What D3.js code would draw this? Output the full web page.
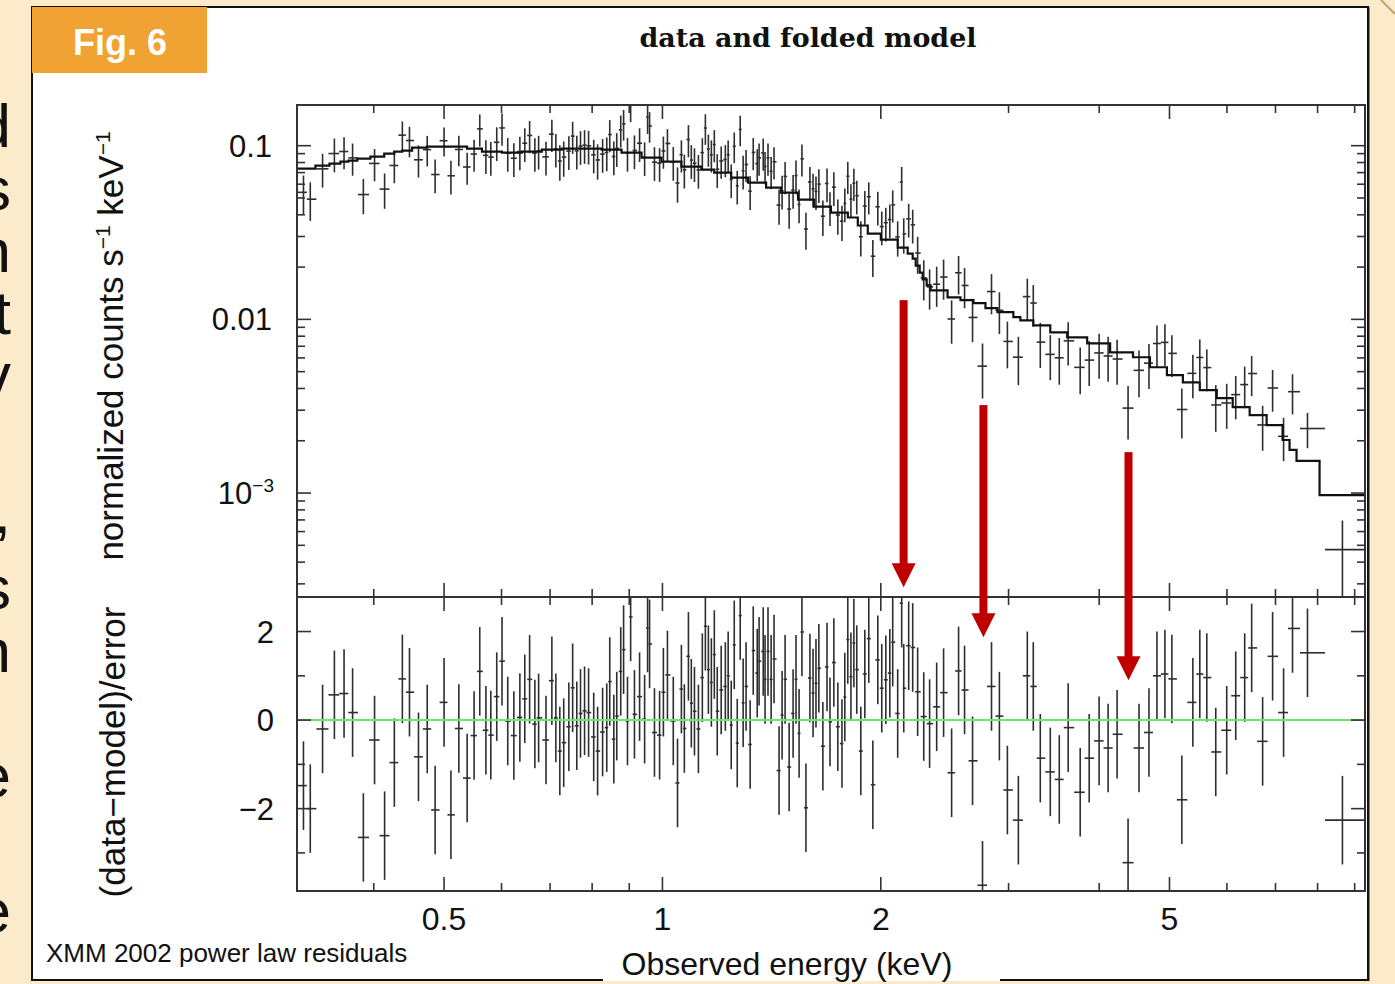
<!DOCTYPE html>
<html>
<head>
<meta charset="utf-8">
<script src="https://cdn.jsdelivr.net/npm/d3@7"></script>
<style>
  html, body { margin: 0; padding: 0; background: #fbebcb; }
  svg { display: block; }
</style>
</head>
<body>
<div id="chart"></div>
<script>
// ---- data ----
// bin centres, keV
const energy = [
  0.320,0.327,0.340,0.353,0.364,0.374,0.387,0.401,0.414,0.427,
  0.438,0.448,0.461,0.474,0.486,0.500,0.511,0.524,0.538,0.550,
  0.560,0.571,0.580,0.591,0.601,0.612,0.624,0.636,0.646,0.656,
  0.667,0.675,0.691,0.704,0.713,0.722,0.731,0.743,0.752,0.762,
  0.771,0.781,0.791,0.804,0.814,0.827,0.838,0.846,0.857,0.865,
  0.876,0.884,0.895,0.904,0.915,0.930,0.945,0.954,0.960,0.975,
  0.991,1.003,1.016,1.035,1.049,1.062,1.072,1.086,1.096,1.107,
  1.121,1.135,1.146,1.157,1.168,1.179,1.190,1.205,1.221,1.232,
  1.244,1.256,1.268,1.280,1.292,1.304,1.321,1.334,1.351,1.359,
  1.377,1.385,1.398,1.412,1.425,1.448,1.462,1.476,1.495,1.514,
  1.528,1.543,1.557,1.577,1.597,1.613,1.628,1.643,1.664,1.686,
  1.702,1.723,1.745,1.768,1.784,1.801,1.819,1.836,1.853,1.877,
  1.901,1.925,1.950,1.981,2.006,2.032,2.058,2.077,2.110,2.137,
  2.151,2.185,2.213,2.248,2.292,2.335,2.388,2.441,2.504,2.560,
  2.609,2.676,2.762,2.842,2.914,2.989,3.095,3.184,3.245,3.318,
  3.425,3.524,3.625,3.766,3.875,3.999,4.115,4.234,4.384,4.539,
  4.685,4.805,4.928,5.038,5.200,5.385,5.505,5.629,5.791,5.996,
  6.170,6.348,6.490,6.720,6.936,7.182,7.389,7.748,8.657
];
// (data-model)/error
const resid = [
  -1.48,-2.00,-0.20,0.57,0.60,0.17,-2.65,-0.45,-2.61,-0.96,
  0.93,0.63,-0.83,-0.20,-2.03,0.40,-2.14,-0.19,-1.31,-0.35,
  1.10,-0.23,-0.34,0.53,1.33,-0.02,-0.35,0.06,0.48,0.92,
  -0.09,0.05,-0.45,0.89,0.05,-0.70,-0.51,-0.15,0.73,-0.13,
  0.15,0.21,0.17,-0.38,-0.70,-0.27,-0.17,0.87,-0.43,0.09,
  1.10,1.59,-0.02,2.33,0.13,0.53,0.02,2.08,1.72,-0.28,
  -0.34,0.63,1.02,-0.02,-1.42,0.70,-0.19,1.44,0.38,0.20,
  -0.20,0.96,2.12,1.14,0.85,1.48,0.20,0.68,0.76,1.00,
  -0.11,1.70,-0.52,2.36,0.39,0.76,-0.55,1.57,1.06,1.33,
  1.55,0.92,1.55,0.92,1.38,-1.14,0.11,0.92,-1.06,0.15,
  0.92,-0.30,1.99,-1.98,0.95,0.61,0.83,1.17,-0.59,1.20,
  -0.04,1.30,-0.15,-0.53,0.52,1.82,0.98,1.74,1.14,-0.70,
  1.04,1.84,-1.46,1.36,0.72,0.91,1.06,1.76,0.15,2.64,
  0.72,1.68,1.64,0.64,0.08,-0.08,0.30,0.62,-1.19,1.11,
  0.68,-0.92,-3.73,0.76,0.09,-1.58,-2.26,1.00,0.76,-0.86,
  -1.17,-1.34,-0.17,-1.63,-0.86,-0.47,-0.63,-0.32,-3.22,-0.63,
  -0.28,1.00,1.04,0.93,-1.80,0.40,1.04,0.96,-0.72,-0.23,
  0.55,0.96,1.63,-0.48,1.44,0.17,2.07,1.52,-2.26
];
// relative error of each data point (sigma / counts)
const relErr = [
  0.25,0.25,0.22,0.22,0.21,0.21,0.23,0.21,0.23,0.21,
  0.20,0.20,0.21,0.20,0.22,0.19,0.22,0.20,0.21,0.21,
  0.21,0.22,0.22,0.22,0.21,0.22,0.22,0.22,0.22,0.21,
  0.22,0.22,0.22,0.21,0.22,0.23,0.23,0.22,0.21,0.22,
  0.22,0.22,0.22,0.22,0.23,0.22,0.22,0.21,0.22,0.22,
  0.21,0.20,0.22,0.20,0.22,0.22,0.22,0.20,0.20,0.22,
  0.22,0.21,0.21,0.22,0.23,0.21,0.22,0.21,0.22,0.22,
  0.22,0.21,0.20,0.21,0.21,0.21,0.22,0.21,0.21,0.21,
  0.22,0.20,0.22,0.20,0.22,0.21,0.22,0.21,0.21,0.21,
  0.21,0.21,0.21,0.21,0.21,0.23,0.22,0.21,0.23,0.22,
  0.22,0.22,0.21,0.24,0.22,0.22,0.22,0.22,0.23,0.22,
  0.22,0.22,0.23,0.23,0.22,0.21,0.22,0.21,0.22,0.23,
  0.22,0.21,0.24,0.22,0.22,0.22,0.22,0.21,0.23,0.22,
  0.23,0.22,0.22,0.24,0.26,0.26,0.26,0.26,0.28,0.25,
  0.26,0.28,0.35,0.26,0.27,0.30,0.31,0.27,0.27,0.29,
  0.29,0.30,0.28,0.30,0.29,0.29,0.29,0.29,0.34,0.30,
  0.29,0.27,0.27,0.27,0.32,0.28,0.27,0.27,0.30,0.29,
  0.28,0.27,0.26,0.29,0.27,0.28,0.26,0.23,0.47
];
// folded model, step starts (keV) and level (counts s-1 keV-1)
const modelE = [
  0.3135,0.3324,0.3475,0.3598,0.3691,0.3797,0.3957,0.4135,0.4268,0.4378,
  0.4518,0.4738,0.5048,0.5378,0.5639,0.6007,0.6400,0.6819,0.7264,0.7739,
  0.8245,0.8784,0.9357,0.9968,1.0620,1.1314,1.1787,1.2439,1.3126,1.3896,
  1.4573,1.5378,1.6176,1.7070,1.8013,1.8592,1.9190,2.0000,2.1104,2.1782,
  2.2130,2.2342,2.2627,2.2843,2.3134,2.3428,2.4719,2.5757,2.6842,2.7881,
  2.8961,3.0464,3.1146,3.2452,3.4246,3.6139,3.8502,4.1411,4.4535,4.6997,
  4.9594,5.2169,5.5052,5.8094,6.1110,6.4489,6.8055,7.1591,7.3194,7.4834,
  8.0510
];
const modelC = [
  0.0738,0.0768,0.0788,0.0809,0.0820,0.0842,0.0865,0.0900,0.0924,0.0936,
  0.0974,0.0987,0.0987,0.0961,0.0924,0.0912,0.0924,0.0948,0.0961,0.0961,
  0.0948,0.0912,0.0853,0.0809,0.0757,0.0728,0.0700,0.0655,0.0613,0.0574,
  0.0537,0.0489,0.0446,0.0412,0.0386,0.0347,0.0312,0.0288,0.0259,0.0239,
  0.0224,0.0204,0.0186,0.0170,0.0157,0.0147,0.0134,0.0129,0.0124,0.0116,
  0.0110,0.0103,0.00987,0.00924,0.00842,0.00788,0.00728,0.00646,0.00605,0.00530,
  0.00477,0.00434,0.00391,0.00352,0.00312,0.00281,0.00246,0.00202,0.00177,0.00153,
  0.000974
];

const xTickMajor = [0.5, 1, 2, 5];
const xTickMinor = [0.4, 0.6, 0.7, 0.8, 0.9, 3, 4, 6, 7, 8, 9];
const xTickLabels = ['0.5', '1', '2', '5'];
const yTickMajor = [1e-3, 1e-2, 0.1];
const rTickMajor = [-2, 0, 2];
const rTickMinor = [-3, -1, 1];
const rTickLabels = ['\u22122', '0', '2'];

// red arrows: energy, top (counts), tip (residual units)
const arrowE   = [2.15, 2.77, 4.39];
const arrowTop = [0.0129, 0.00321, 0.00172];
const arrowTip = [3.0, 1.87, 0.90];

// slide text cut off at the left edge
const sideLetters = ['d','s','n','t','v',',','s','n','e','e'];

// ---- layout ----
const W = 1395, H = 984;
const X0 = 297, X1 = 1365, YT0 = 105, YMID = 597, YR1 = 891;
const SANS = 'Liberation Sans, Arial, Helvetica, sans-serif';

const svg = d3.select('#chart').append('svg')
  .attr('width', W).attr('height', H);

svg.append('rect').attr('width', W).attr('height', H).attr('fill', '#fbebcb');

// page fold line top right
svg.append('line')
  .attr('x1', 1381).attr('y1', 0).attr('x2', 1395).attr('y2', 14)
  .attr('stroke', '#c9a064').attr('stroke-width', 2);

// left clipped slide letters
const sideY = [147, 210, 272, 334, 396, 533, 609, 672, 797, 932];
svg.append('g').selectAll('text')
  .data(sideLetters)
  .join('text')
    .attr('x', 11)
    .attr('y', (d, i) => sideY[i])
    .attr('text-anchor', 'end')
    .style('font-family', SANS)
    .style('font-size', '62px')
    .attr('fill', '#111')
    .text(d => d);

// figure box
svg.append('rect')
  .attr('x', 32).attr('y', 7).attr('width', 1336).attr('height', 973)
  .attr('fill', '#fff').attr('stroke', '#111').attr('stroke-width', 2);
svg.append('line')
  .attr('x1', 1369.5).attr('x2', 1369.5).attr('y1', 7).attr('y2', 981)
  .attr('stroke', '#888').attr('stroke-width', 1);

// Fig. 6 badge
svg.append('rect')
  .attr('x', 32).attr('y', 7).attr('width', 175).attr('height', 66)
  .attr('fill', '#f0a232');
svg.append('text')
  .attr('x', 120).attr('y', 55)
  .attr('text-anchor', 'middle')
  .style('font-family', SANS).style('font-weight', 'bold').style('font-size', '36px')
  .attr('fill', '#fff')
  .text('Fig. 6');

// title
svg.append('text')
  .attr('x', 808).attr('y', 47)
  .attr('text-anchor', 'middle')
  .attr('textLength', 337).attr('lengthAdjust', 'spacingAndGlyphs')
  .style('font-family', 'DejaVu Serif, Liberation Serif, serif')
  .style('font-weight', 'bold').style('font-size', '26px')
  .attr('fill', '#111')
  .text('data and folded model');

// ---- scales ----
const x = d3.scaleLog().domain([0.3135, 9.30]).range([X0, X1]);
const yTop = d3.scaleLog().domain([2.52e-4, 0.1715]).range([YMID, YT0]);
const yRes = d3.scaleLinear().domain([-3.86, 2.78]).range([YR1, YMID]);

// bin edges: geometric midpoints between centres
const edges = [x.domain()[0]];
for (let i = 1; i < energy.length; i++) edges.push(Math.sqrt(energy[i - 1] * energy[i]));
edges.push(x.domain()[1]);

const pts = energy.map((e, i) => {
  const m = modelC[d3.bisectRight(modelE, e) - 1];
  const d = m / (1 - resid[i] * relErr[i]);
  return { e, lo: edges[i], hi: edges[i + 1], r: resid[i], d, s: d * relErr[i] };
});

// clip paths
const defs = svg.append('defs');
defs.append('clipPath').attr('id', 'clipTop').append('rect')
  .attr('x', X0).attr('y', YT0).attr('width', X1 - X0).attr('height', YMID - YT0);
defs.append('clipPath').attr('id', 'clipRes').append('rect')
  .attr('x', X0).attr('y', YMID).attr('width', X1 - X0).attr('height', YR1 - YMID);

const barColor = '#2e2e2e';

// ---- upper panel ----
const gTop = svg.append('g').attr('clip-path', 'url(#clipTop)');
gTop.selectAll('line.v')
  .data(pts)
  .join('line').attr('class', 'v')
    .attr('x1', d => x(d.e)).attr('x2', d => x(d.e))
    .attr('y1', d => yTop(d.d - d.s)).attr('y2', d => yTop(d.d + d.s))
    .attr('stroke', barColor).attr('stroke-width', 1.6);
gTop.selectAll('line.h')
  .data(pts)
  .join('line').attr('class', 'h')
    .attr('x1', d => x(d.lo)).attr('x2', d => x(d.hi))
    .attr('y1', d => yTop(d.d)).attr('y2', d => yTop(d.d))
    .attr('stroke', barColor).attr('stroke-width', 1.6);

const modelPts = modelE.map((e, i) => [e, modelC[i]]);
modelPts.push([x.domain()[1], modelC[modelC.length - 1]]);
gTop.append('path')
  .datum(modelPts)
  .attr('fill', 'none').attr('stroke', '#111').attr('stroke-width', 2.2)
  .attr('d', d3.line().x(d => x(d[0])).y(d => yTop(d[1])).curve(d3.curveStepAfter));

// ---- residual panel ----
const gRes = svg.append('g').attr('clip-path', 'url(#clipRes)');
gRes.selectAll('line.v')
  .data(pts)
  .join('line').attr('class', 'v')
    .attr('x1', d => x(d.e)).attr('x2', d => x(d.e))
    .attr('y1', d => yRes(d.r - 1)).attr('y2', d => yRes(d.r + 1))
    .attr('stroke', barColor).attr('stroke-width', 1.6);
gRes.selectAll('line.h')
  .data(pts)
  .join('line').attr('class', 'h')
    .attr('x1', d => x(d.lo)).attr('x2', d => x(d.hi))
    .attr('y1', d => yRes(d.r)).attr('y2', d => yRes(d.r))
    .attr('stroke', barColor).attr('stroke-width', 1.6);

gRes.append('line')
  .attr('x1', X0).attr('x2', X1)
  .attr('y1', yRes(0)).attr('y2', yRes(0))
  .attr('stroke', '#6ee46e').attr('stroke-width', 2);

// ---- frames and ticks ----
const axisColor = '#333';
const frame = svg.append('g').attr('stroke', axisColor).attr('fill', 'none');
frame.append('rect').attr('x', X0).attr('y', YT0).attr('width', X1 - X0).attr('height', YMID - YT0).attr('stroke-width', 2);
frame.append('rect').attr('x', X0).attr('y', YMID).attr('width', X1 - X0).attr('height', YR1 - YMID).attr('stroke-width', 2);

const MAJ = 14, MIN = 8;
function xTicks(vals, len) {
  vals.forEach(v => {
    const px = x(v);
    [[YT0, len], [YMID, -len], [YMID, len], [YR1, -len]].forEach(([y0, l]) => {
      frame.append('line').attr('x1', px).attr('x2', px).attr('y1', y0).attr('y2', y0 + l).attr('stroke-width', 1.6);
    });
  });
}
xTicks(xTickMajor, MAJ);
xTicks(xTickMinor, MIN);

function yTicks(scale, vals, len) {
  vals.forEach(v => {
    const py = scale(v);
    frame.append('line').attr('x1', X0).attr('x2', X0 + len).attr('y1', py).attr('y2', py).attr('stroke-width', 1.6);
    frame.append('line').attr('x1', X1).attr('x2', X1 - len).attr('y1', py).attr('y2', py).attr('stroke-width', 1.6);
  });
}
yTicks(yTop, yTickMajor, MAJ);
const yMinor = [];
[1e-4, 1e-3, 1e-2].forEach(dec => d3.range(2, 10).forEach(k => {
  const v = dec * k;
  if (v > yTop.domain()[0] && v < yTop.domain()[1]) yMinor.push(v);
}));
yTicks(yTop, yMinor, MIN);
yTicks(yRes, rTickMajor, MAJ);
yTicks(yRes, rTickMinor, MIN);

// ---- tick labels ----
const lab = svg.append('g').style('font-family', SANS).attr('fill', '#111');
lab.append('text').attr('x', 272).attr('y', yTop(0.1) + 11).attr('text-anchor', 'end')
  .style('font-size', '31px').text('0.1');
lab.append('text').attr('x', 272).attr('y', yTop(0.01) + 11).attr('text-anchor', 'end')
  .style('font-size', '31px').text('0.01');
const t3 = lab.append('text').attr('x', 274).attr('y', yTop(1e-3) + 11).attr('text-anchor', 'end')
  .style('font-size', '31px');
t3.append('tspan').text('10');
t3.append('tspan').attr('dy', -12).style('font-size', '19px').text('\u22123');

rTickMajor.forEach((v, i) => {
  lab.append('text').attr('x', 274).attr('y', yRes(v) + 11).attr('text-anchor', 'end')
    .style('font-size', '31px').text(rTickLabels[i]);
});
xTickMajor.forEach((v, i) => {
  lab.append('text').attr('x', x(v)).attr('y', 930).attr('text-anchor', 'middle')
    .style('font-size', '32px').text(xTickLabels[i]);
});

// axis titles
const yl = lab.append('text')
  .attr('transform', 'translate(123,346) rotate(-90)')
  .attr('text-anchor', 'middle').style('font-size', '35px');
yl.append('tspan').text('normalized counts s');
yl.append('tspan').attr('dy', -13).style('font-size', '21px').text('\u22121');
yl.append('tspan').attr('dy', 13).text(' keV');
yl.append('tspan').attr('dy', -13).style('font-size', '21px').text('\u22121');

lab.append('text')
  .attr('transform', 'translate(125,752) rotate(-90)')
  .attr('text-anchor', 'middle').style('font-size', '35px')
  .text('(data\u2212model)/error');

// caption
lab.append('text').attr('x', 46).attr('y', 962)
  .style('font-size', '26px').text('XMM 2002 power law residuals');

// x title on a white patch over the box border
svg.append('rect').attr('x', 603).attr('y', 944).attr('width', 397).attr('height', 37).attr('fill', '#fff');
svg.append('text').attr('x', 787).attr('y', 975).attr('text-anchor', 'middle')
  .style('font-family', SANS).style('font-size', '32px').attr('fill', '#111')
  .text('Observed energy (keV)');

// ---- red arrows ----
const red = '#c00000';
const ga = svg.append('g').attr('fill', red);
arrowE.forEach((e, i) => {
  const ax = x(e), top = yTop(arrowTop[i]), tip = yRes(arrowTip[i]);
  ga.append('rect').attr('x', ax - 4).attr('y', top).attr('width', 8).attr('height', tip - top - 20);
  ga.append('path').attr('d', `M${ax - 12},${tip - 24}L${ax + 12},${tip - 24}L${ax},${tip}Z`);
});
</script>
</body>
</html>
